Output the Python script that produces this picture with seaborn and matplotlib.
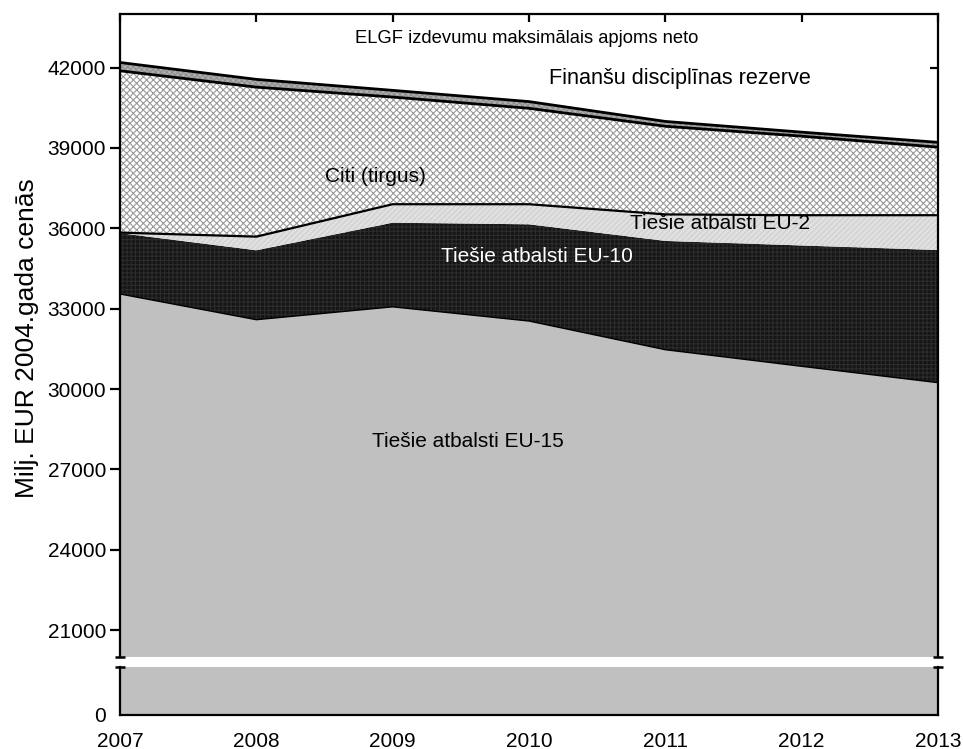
import numpy as np
import pandas as pd
import matplotlib
matplotlib.use("Agg")
import matplotlib.pyplot as plt
import seaborn as sns

years = [2007, 2008, 2009, 2010, 2011, 2012, 2013]
eu15 = [33550, 32590, 33070, 32540, 31470, 30850, 30240]
eu10 = [2270, 2590, 3140, 3610, 4060, 4510, 4950]
eu2 = [20, 510, 690, 750, 990, 1130, 1300]
citi = [6040, 5580, 4000, 3580, 3290, 2950, 2540]
rezerve = [310, 290, 250, 250, 180, 150, 180]

layer_names = ["Tiešie atbalsti EU-15", "Tiešie atbalsti EU-10", "Tiešie atbalsti EU-2",
               "Citi (tirgus)", "Finanšu disciplīnas rezerve"]
upper_ticks = [21000, 24000, 27000, 30000, 33000, 36000, 39000, 42000]

sns.set_theme(style="white")
plt.rcParams["font.family"] = ["Liberation Sans", "DejaVu Sans"]
plt.rcParams["hatch.linewidth"] = 0.8
plt.rcParams["text.color"] = "black"
plt.rcParams["xtick.color"] = "black"
plt.rcParams["ytick.color"] = "black"
plt.rcParams["axes.labelcolor"] = "black"

layers = [eu15, eu10, eu2, citi, rezerve]
cum = np.cumsum(np.array(layers), axis=0)
df = pd.DataFrame({"year": years})
for i, n in enumerate(layer_names):
    df[n] = cum[i]

faces = ["#c0c0c0", "#151515", "#e0e0e0", "#ffffff", "#b0b0b0"]
hatches = [None, "++++", "//////", "xxxxx", "xxxxxx"]
hcols = ["#c0c0c0", "#2c2c2c", "#cfcfcf", "#9a9a9a", "#909090"]

fig = plt.figure(figsize=(9.63, 7.49), dpi=100)
L, R = 120 / 963, 938 / 963
ax = fig.add_axes([L, 1 - 657 / 749, R - L, (657 - 14) / 749])
axb = fig.add_axes([L, 1 - 715 / 749, R - L, (715 - 667) / 749])

for a in (ax, axb):
    polys = a.stackplot(years, *layers, colors=faces, linewidth=0)
    for p, h, hc in zip(polys, hatches, hcols):
        if h:
            p.set_hatch(h)
        p.set_edgecolor(hc)
        p.set_linewidth(0)
    a.set_xlim(2007, 2013)
    for s in a.spines.values():
        s.set_linewidth(1.6)
        s.set_color("black")

# boundary lines
for n, lw in [("Tiešie atbalsti EU-2", 1.6), ("Citi (tirgus)", 2.0), ("Finanšu disciplīnas rezerve", 2.0),
              ("Tiešie atbalsti EU-15", 1.0)]:
    sns.lineplot(data=df, x="year", y=n, ax=ax, color="black", lw=lw)

ax.set_ylim(20000, 44000)
ax.set_yticks(upper_ticks)
ax.set_yticklabels([str(t) for t in upper_ticks])
ax.spines["bottom"].set_visible(False)
ax.set_xticks(years)
ax.tick_params(axis="x", which="both", bottom=False, top=True, labelbottom=False,
               direction="in", length=6, width=1.6)
ax.tick_params(axis="y", left=True, right=False, direction="out", length=7, width=1.6,
               labelsize=15, pad=3)
ax.set_xlabel("")
ax.set_ylabel("")
axr = ax.secondary_yaxis("right")
axr.set_yticks(upper_ticks)
axr.tick_params(direction="in", length=6, width=1.6, labelright=False)
axr.spines["right"].set_visible(False)

axb.set_ylim(0, 1800)
axb.set_yticks([0])
axb.set_yticklabels(["0"])
axb.spines["top"].set_visible(False)
axb.set_xticks(years)
axb.set_xticklabels([str(y) for y in years])
axb.tick_params(axis="x", direction="in", length=6, width=1.6, labelsize=15, pad=12)
axb.tick_params(axis="y", direction="out", length=7, width=1.6, labelsize=15, pad=3)
axb.set_xlabel("")

# break caps
for a, yy in ((ax, 0), (axb, 1)):
    for xx in (0, 1):
        a.plot([xx - 0.006, xx + 0.006], [yy, yy], transform=a.transAxes, color="black",
               lw=1.8, clip_on=False, solid_capstyle="butt")

fig.text(27 / 963, 1 - 338 / 749, "Milj. EUR 2004.gada cenās", rotation=90,
         ha="center", va="center", fontsize=19)

ax.text(2009.98, 43090, "ELGF izdevumu maksimālais apjoms neto", ha="center", va="center", fontsize=13.2)
ax.text(2011.11, 41590, "Finanšu disciplīnas rezerve", ha="center", va="center", fontsize=15.6)
ax.text(2008.87, 37950, "Citi (tirgus)", ha="center", va="center", fontsize=15)
ax.text(2011.40, 36180, "Tiešie atbalsti EU-2", ha="center", va="center", fontsize=15)
ax.text(2010.06, 34950, "Tiešie atbalsti EU-10", ha="center", va="center", fontsize=15, color="white")
ax.text(2009.55, 28050, "Tiešie atbalsti EU-15", ha="center", va="center", fontsize=15)

fig.savefig("out.png", dpi=100)
